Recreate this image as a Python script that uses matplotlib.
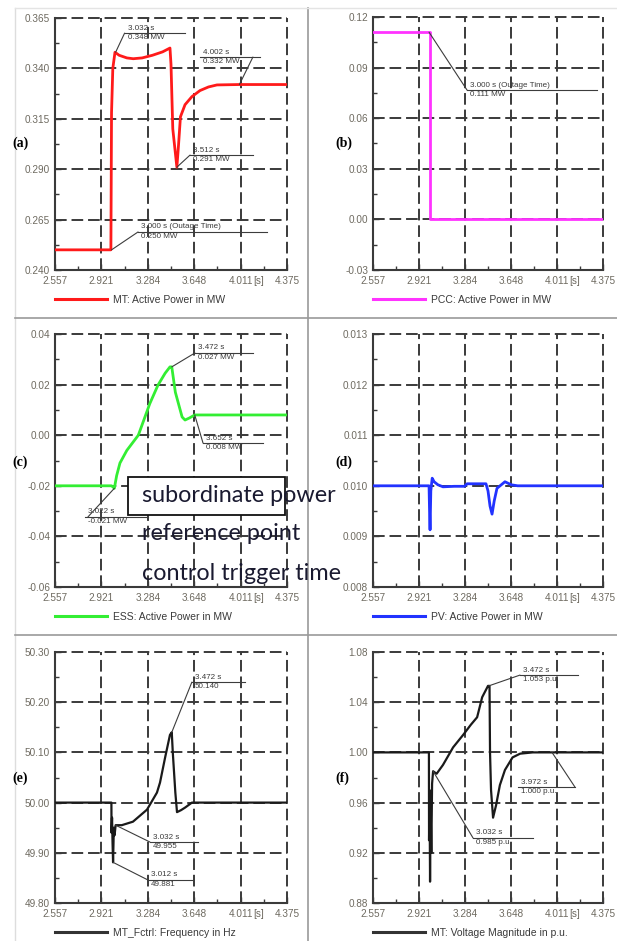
import matplotlib
matplotlib.use("Agg")
import matplotlib.pyplot as plt
import numpy as np
from matplotlib.lines import Line2D
from matplotlib.patches import Rectangle
from matplotlib.ticker import FixedLocator, FormatStrFormatter

W, H = 617, 941

# ---- data ----
x_ticks = [2.557, 2.921, 3.284, 3.648, 4.011, 4.375]

t_mt = [2.557, 2.995, 3.000, 3.010, 3.027, 3.06, 3.12, 3.17, 3.24, 3.32, 3.40, 3.458,
        3.466, 3.480, 3.512, 3.525, 3.540, 3.576, 3.63, 3.693, 3.76, 3.826, 4.002, 4.375]
p_mt = [0.250, 0.250, 0.318, 0.340, 0.348, 0.3465, 0.3452, 0.3448, 0.3452, 0.3465, 0.3482, 0.3501,
        0.342, 0.310, 0.291, 0.302, 0.316, 0.322, 0.326, 0.329, 0.3308, 0.3318, 0.332, 0.332]

t_pcc = [2.557, 3.004, 3.004, 4.375]
p_pcc = [0.111, 0.111, 0.000, 0.000]

t_ess = [2.557, 3.000, 3.012, 3.022, 3.04, 3.066, 3.12, 3.21, 3.30, 3.364, 3.42, 3.458,
         3.472, 3.50, 3.553, 3.576, 3.61, 3.652, 3.75, 4.375]
p_ess = [-0.020, -0.020, -0.0205, -0.021, -0.016, -0.011, -0.006, 0.0, 0.0125, 0.0198, 0.0245, 0.027,
         0.027, 0.017, 0.0072, 0.006, 0.0068, 0.008, 0.008, 0.008]

t_pv = [2.557, 3.000, 3.004, 3.008, 3.014, 3.025, 3.04, 3.07, 3.11, 3.20, 3.28, 3.30, 3.40,
        3.45, 3.466, 3.482, 3.498, 3.515, 3.537, 3.60, 3.65, 3.70, 4.375]
p_pv = [0.0100, 0.0100, 0.0095, 0.00913, 0.0099, 0.01015, 0.01008, 0.01002, 0.00998, 0.00999, 0.00999,
        0.01004, 0.01004, 0.01004, 0.00990, 0.0096, 0.00944, 0.0097, 0.00995, 0.01008, 0.01002, 0.01000, 0.0100]

t_f = [2.557, 2.999, 3.000, 3.004, 3.008, 3.012, 3.018, 3.024, 3.032, 3.08, 3.168, 3.278, 3.356,
       3.38, 3.42, 3.458, 3.472, 3.48, 3.50, 3.513, 3.545, 3.576, 3.63, 4.375]
f_mt = [50.000, 50.000, 49.94, 49.97, 49.92, 49.881, 49.95, 49.935, 49.955, 49.955, 49.962, 49.986, 50.02,
        50.04, 50.09, 50.135, 50.140, 50.10, 50.02, 49.981, 49.985, 49.99, 50.0, 50.0]

t_v = [2.557, 2.999, 3.000, 3.004, 3.008, 3.012, 3.018, 3.024, 3.032, 3.06, 3.11, 3.19, 3.27,
       3.33, 3.38, 3.42, 3.466, 3.478, 3.482, 3.49, 3.506, 3.53, 3.56, 3.60, 3.66, 3.72, 3.82, 3.972, 4.375]
v_mt = [1.000, 1.000, 0.93, 0.97, 0.897, 0.96, 0.92, 0.975, 0.985, 0.983, 0.990, 1.004, 1.014,
        1.022, 1.028, 1.044, 1.053, 1.053, 1.000, 0.97, 0.948, 0.958, 0.974, 0.986, 0.996, 0.999, 1.000, 1.000, 1.000]

# labelled points (time, value)
mark_a = [(3.032, 0.348), (4.002, 0.332), (3.512, 0.291), (3.000, 0.250)]
mark_b = [(3.000, 0.111)]
mark_c = [(3.472, 0.027), (3.652, 0.008), (3.022, -0.021)]
mark_e = [(3.472, 50.140), (3.032, 49.955), (3.012, 49.881)]
mark_f = [(3.472, 1.053), (3.972, 1.000), (3.032, 0.985)]

TICK_COLOR = "#6e6a60"
GRID_COLOR = "#3a3a3a"
SANS = "Liberation Sans"


def add_axes_px(fig, left, right, top, bottom):
    return fig.add_axes([left / W, 1 - bottom / H, (right - left) / W, (bottom - top) / H])


def style_axes(ax, ylim, fmt):
    ax.set_xlim(x_ticks[0], x_ticks[-1])
    ax.set_ylim(*ylim)
    ax.xaxis.set_major_locator(FixedLocator(x_ticks))
    ax.set_xticklabels([f"{x:.3f}" for x in x_ticks])
    ax.xaxis.set_minor_locator(FixedLocator([(a + b) / 2 for a, b in zip(x_ticks[:-1], x_ticks[1:])]))
    ax.yaxis.set_major_locator(FixedLocator(np.linspace(ylim[0], ylim[1], 6)))
    ax.yaxis.set_minor_locator(FixedLocator(np.linspace(ylim[0], ylim[1], 11)))
    ax.yaxis.set_major_formatter(FormatStrFormatter(fmt))
    ax.tick_params(which="major", direction="in", length=4, width=1.0, color=GRID_COLOR,
                   labelsize=7.2, labelcolor=TICK_COLOR)
    ax.tick_params(axis="x", which="major", pad=4.0)
    ax.tick_params(axis="y", which="major", pad=3.5)
    ax.tick_params(which="minor", direction="in", length=3, width=1.0, color=GRID_COLOR)
    for lab in ax.get_xticklabels() + ax.get_yticklabels():
        lab.set_family(SANS)
    ax.grid(True, which="major", color=GRID_COLOR, linewidth=1.4, linestyle=(0, (6, 2.5)))
    for gl in ax.get_xgridlines() + ax.get_ygridlines():
        gl.set_clip_on(False)
    for side in ("top", "right"):
        ax.spines[side].set_visible(False)
    for side in ("left", "bottom"):
        ax.spines[side].set_color(GRID_COLOR)
        ax.spines[side].set_linewidth(1.5)
    ax.annotate("[s]", xy=(4.011, 0), xycoords=("data", "axes fraction"), xytext=(9.0, -4.0),
                textcoords="offset points", ha="left", va="top", fontsize=7.2,
                color=TICK_COLOR, family=SANS)


def label_point(ax, pt, top, bottom, x0, x1, ly, jx):
    tr = ax.transAxes
    ax.plot([x0, x1], [ly, ly], transform=tr, color="#3c3c3c", lw=0.8, clip_on=False, zorder=4)
    ax.annotate("", xy=pt, xycoords="data", xytext=(jx, ly), textcoords="axes fraction",
                arrowprops=dict(arrowstyle="-", lw=0.8, color="#3c3c3c", shrinkA=0, shrinkB=0),
                zorder=4)
    ax.text(x0 + 0.013, ly + 0.006, top, transform=tr, va="bottom", ha="left",
            fontsize=5.8, color="#3a3a3a", family=SANS, zorder=4)
    ax.text(x0 + 0.013, ly - 0.004, bottom, transform=tr, va="top", ha="left",
            fontsize=5.8, color="#3a3a3a", family=SANS, zorder=4)


def add_legend(ax, color, text, lw):
    h = Line2D([], [], color=color, lw=lw)
    ax.legend([h], [text], loc="center left", bbox_to_anchor=(0, -30 / 252), frameon=False,
              borderpad=0, borderaxespad=0, handlelength=5.0, handletextpad=0.6,
              prop={"family": SANS, "size": 7.5}, labelcolor="#3a3a3a")


fig = plt.figure(figsize=(W / 100, H / 100), dpi=100)
fig.patch.set_facecolor("white")

# panel frames
frame = dict(color="#9a9a9a", lw=1.2, transform=fig.transFigure)
fig.add_artist(Line2D([308 / W, 308 / W], [0, 1 - 8 / H], **frame))
fig.add_artist(Line2D([15 / W, 15 / W], [0, 1 - 8 / H], color="#dddddd", lw=1.0, transform=fig.transFigure))
fig.add_artist(Line2D([15 / W, 1], [1 - 8 / H, 1 - 8 / H], color="#e4e4e4", lw=1.0, transform=fig.transFigure))
for yy in (318, 635):
    fig.add_artist(Line2D([15 / W, 1], [1 - yy / H, 1 - yy / H], **frame))

# (a) MT active power
ax_a = add_axes_px(fig, 55, 287, 18, 270)
style_axes(ax_a, (0.240, 0.365), "%.3f")
ax_a.plot(t_mt, p_mt, color="#ff1a1a", lw=2.0, zorder=3)
layout_a = [(0.30, 0.56, 0.940, 0.30), (0.625, 0.884, 0.845, 0.853),
            (0.582, 0.853, 0.456, 0.582), (0.358, 0.914, 0.151, 0.358)]
for (t, v), lay in zip(mark_a, layout_a):
    top = f"{t:.3f} s" + (" (Outage Time)" if t == 3.0 else "")
    label_point(ax_a, (t, v), top, f"{v:.3f} MW", *lay)
add_legend(ax_a, "#ff1a1a", "MT: Active Power in MW", 2.2)

# (b) PCC active power
ax_b = add_axes_px(fig, 373, 603, 17, 270)
style_axes(ax_b, (-0.03, 0.12), "%.2f")
ax_b.plot(t_pcc, p_pcc, color="#ff33ff", lw=2.0, zorder=3)
for (t, v) in mark_b:
    label_point(ax_b, (t, v), f"{t:.3f} s (Outage Time)", f"{v:.3f} MW", 0.409, 0.974, 0.711, 0.409)
add_legend(ax_b, "#ff33ff", "PCC: Active Power in MW", 2.2)

# (c) ESS active power
ax_c = add_axes_px(fig, 55, 287, 334, 587)
style_axes(ax_c, (-0.06, 0.04), "%.2f")
ax_c.plot(t_ess, p_ess, color="#33ee33", lw=2.0, zorder=3)
layout_c = [(0.603, 0.853, 0.925, 0.603), (0.638, 0.897, 0.569, 0.638), (0.129, 0.40, 0.277, 0.142)]
for (t, v), lay in zip(mark_c, layout_c):
    label_point(ax_c, (t, v), f"{t:.3f} s", f"{v:.3f} MW", *lay)
add_legend(ax_c, "#33ee33", "ESS: Active Power in MW", 2.2)

# (d) PV active power
ax_d = add_axes_px(fig, 373, 603, 334, 587)
style_axes(ax_d, (0.008, 0.013), "%.3f")
ax_d.plot(t_pv, p_pv, color="#2233ff", lw=2.0, zorder=3)
add_legend(ax_d, "#2233ff", "PV: Active Power in MW", 2.2)

# (e) MT frequency
ax_e = add_axes_px(fig, 55, 287, 652, 903)
style_axes(ax_e, (49.80, 50.30), "%.2f")
ax_e.plot(t_f, f_mt, color="#1a1a1a", lw=1.6, zorder=3)
layout_e = [(0.59, 0.819, 0.880, 0.59), (0.409, 0.616, 0.243, 0.409), (0.40, 0.595, 0.092, 0.40)]
for (t, v), lay in zip(mark_e, layout_e):
    label_point(ax_e, (t, v), f"{t:.3f} s", f"{v:.3f}", *lay)
add_legend(ax_e, "#333333", "MT_Fctrl: Frequency in Hz", 2.2)

# (f) MT voltage
ax_f = add_axes_px(fig, 373, 603, 652, 903)
style_axes(ax_f, (0.88, 1.08), "%.2f")
ax_f.plot(t_v, v_mt, color="#1a1a1a", lw=1.6, zorder=3)
layout_f = [(0.639, 0.891, 0.908, 0.639), (0.63, 0.878, 0.462, 0.878), (0.435, 0.696, 0.259, 0.435)]
for (t, v), lay in zip(mark_f, layout_f):
    label_point(ax_f, (t, v), f"{t:.3f} s", f"{v:.3f} p.u.", *lay)
add_legend(ax_f, "#333333", "MT: Voltage Magnitude in p.u.", 2.2)

# panel letters
for txt, x, y in [("(a)", 12, 143), ("(b)", 335, 143), ("(c)", 12, 462),
                  ("(d)", 335, 462), ("(e)", 12, 778), ("(f)", 335, 778)]:
    fig.text(x / W, 1 - y / H, txt, family="Liberation Serif", weight="bold", fontsize=10,
             va="center", ha="left")

# overlay note
fig.add_artist(Rectangle((128 / W, 1 - 515 / H), (285 - 128) / W, (515 - 477) / H,
                         transform=fig.transFigure, facecolor="white", edgecolor="#111111",
                         lw=1.3, zorder=5))
for txt, y in [("subordinate power", 496), ("reference point", 534), ("control trigger time", 573)]:
    fig.text(142 / W, 1 - y / H, txt, family="Lato", fontsize=16.8, color="#1a1a30",
             va="center", ha="left", zorder=6)

fig.savefig("out.png", dpi=100)
